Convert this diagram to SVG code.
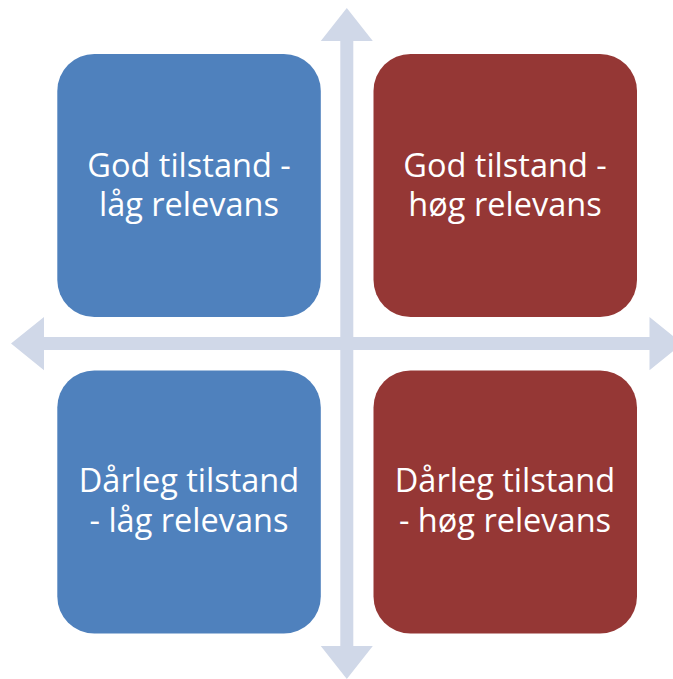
<svg xmlns="http://www.w3.org/2000/svg" width="673" height="679" viewBox="0 0 673 679">
<style>
.blue{fill:#4F81BD}
.red{fill:#953735}
.axis{fill:#D0D8E8}
.lbl{fill:#FFFFFF;font-family:"Open Sans","Liberation Sans",sans-serif;font-size:32.5px;text-anchor:middle}
</style>
<rect width="673" height="679" fill="#FFFFFF"/>
<g id="connectors">
<polygon class="axis" points="346.8,8 372.8,41 353.3,41 353.3,646 372.8,646 346.8,679 320.8,646 340.3,646 340.3,41 320.8,41"/>
<polygon class="axis" points="11,343.6 44,317 44,337.1 649.5,337.1 649.5,317 682.5,343.6 649.5,370.3 649.5,350.1 44,350.1 44,370.3"/>
</g>
<g id="node-tl">
<rect class="blue" x="57.3" y="54" width="263.5" height="263" rx="37" ry="37"/>
<text class="lbl" x="189" y="177">God tilstand -</text>
<text class="lbl" x="189" y="216">låg relevans</text>
</g>
<g id="node-tr">
<rect class="red" x="373.5" y="54" width="263.5" height="263" rx="37" ry="37"/>
<text class="lbl" x="505" y="177">God tilstand -</text>
<text class="lbl" x="505" y="216">høg relevans</text>
</g>
<g id="node-bl">
<rect class="blue" x="57.3" y="370.5" width="263.5" height="263" rx="37" ry="37"/>
<text class="lbl" x="189" y="492">Dårleg tilstand</text>
<text class="lbl" x="189" y="531.5">- låg relevans</text>
</g>
<g id="node-br">
<rect class="red" x="373.5" y="370.5" width="263.5" height="263" rx="37" ry="37"/>
<text class="lbl" x="505" y="492">Dårleg tilstand</text>
<text class="lbl" x="505" y="531.5">- høg relevans</text>
</g>
</svg>
